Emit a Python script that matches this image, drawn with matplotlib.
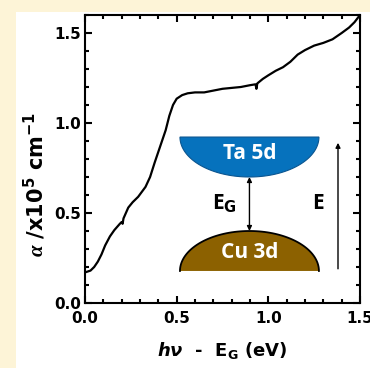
import numpy as np
import matplotlib
matplotlib.use("Agg")
from matplotlib import pyplot as plt
from matplotlib.patches import Polygon, Rectangle
from matplotlib.ticker import MultipleLocator

plt.rcParams['font.family'] = ['DejaVu Sans']
plt.rcParams['font.weight'] = 'bold'
plt.rcParams['mathtext.fontset'] = 'custom'
plt.rcParams['mathtext.rm'] = 'DejaVu Sans:bold'
plt.rcParams['mathtext.bf'] = 'DejaVu Sans:bold'
plt.rcParams['mathtext.it'] = 'DejaVu Sans:italic:bold'
plt.rcParams['mathtext.sf'] = 'Liberation Serif:italic'

# absorption curve
energy = [0.0, 0.03, 0.05, 0.07, 0.09, 0.11, 0.136, 0.16, 0.19, 0.20, 0.205,
          0.21, 0.236, 0.26, 0.29, 0.33, 0.355, 0.38, 0.41, 0.44, 0.46,
          0.48, 0.50, 0.53, 0.56, 0.60, 0.65, 0.70, 0.75, 0.80, 0.85,
          0.90, 0.93, 0.935, 0.94, 0.97, 1.00, 1.04, 1.08, 1.12, 1.16,
          1.20, 1.25, 1.30, 1.35, 1.40, 1.44, 1.47, 1.50]
alpha = [0.17, 0.18, 0.20, 0.23, 0.27, 0.32, 0.37, 0.405, 0.44, 0.45, 0.44,
         0.47, 0.53, 0.56, 0.59, 0.645, 0.70, 0.78, 0.87, 0.96, 1.04,
         1.10, 1.135, 1.155, 1.165, 1.17, 1.17, 1.18, 1.19, 1.195, 1.20,
         1.21, 1.215, 1.19, 1.22, 1.245, 1.265, 1.29, 1.31, 1.34, 1.38,
         1.405, 1.43, 1.445, 1.465, 1.50, 1.53, 1.56, 1.60]

bandCentre = 0.897
bandHalfWidth = 0.379
ta5dTop = 0.922
cu3dBottom = 0.178
bandDepth = 0.222

fig = plt.figure(figsize=(3.70, 3.68), dpi=100)
fig.patch.set_facecolor("#fdf4d7")
fig.patches.append(Rectangle((16 / 370, 0), 1, 1 - 12 / 368, transform=fig.transFigure,
                             facecolor="white", edgecolor="none", zorder=-5))

ax = fig.add_axes([85 / 370, 65 / 368, 275 / 370, 288 / 368])
ax.plot(energy, alpha, c="black", lw=1.6)

ax.set_xlim(0, 1.5)
ax.set_ylim(0, 1.6)
ax.xaxis.set_major_locator(MultipleLocator(0.5))
ax.xaxis.set_minor_locator(MultipleLocator(0.1))
ax.yaxis.set_major_locator(MultipleLocator(0.5))
ax.yaxis.set_minor_locator(MultipleLocator(0.1))
ax.tick_params(which="both", direction="in", top=True, right=True, width=1.5, labelsize=11)
ax.tick_params(which="major", length=5)
ax.tick_params(which="minor", length=3)
ax.tick_params(axis="x", pad=6)
ax.tick_params(axis="y", pad=3)
for s in ax.spines.values():
  s.set_linewidth(1.5)

ax.set_xlabel(r"$h\nu$  -  E$_\mathrm{G}$ (eV)", fontsize=13, fontweight="bold", labelpad=10)
ax.set_ylabel(r"$\mathsf{\alpha}$ /x10$^5$ cm$^{-1}$", fontsize=15, fontweight="bold")
ax.yaxis.set_label_coords(-0.135, 0.413)

# band diagram inset
t = np.linspace(np.pi, 2 * np.pi, 80)
taX = bandCentre + bandHalfWidth * np.cos(t)
taY = ta5dTop + bandDepth * np.sin(t)
ax.add_patch(Polygon(np.column_stack([taX, taY]), closed=True, facecolor="#0672bd",
                     edgecolor="#0a5590", lw=0.8, zorder=3))
t = np.linspace(0, np.pi, 80)
cuX = bandCentre + bandHalfWidth * np.cos(t)
cuY = cu3dBottom + bandDepth * np.sin(t)
ax.add_patch(Polygon(np.column_stack([cuX, cuY]), closed=True, facecolor="#8c6100",
                     edgecolor="none", zorder=3))
ax.plot(cuX, cuY, c="black", lw=1.3, zorder=4)

ax.text(bandCentre, 0.83, "Ta 5d", color="white", fontsize=15, fontweight="bold",
        family=["Open Sans", "DejaVu Sans"], ha="center", va="center", zorder=5)
ax.text(bandCentre, 0.28, "Cu 3d", color="white", fontsize=15, fontweight="bold",
        family=["Open Sans", "DejaVu Sans"], ha="center", va="center", zorder=5)

ax.annotate("", xy=(bandCentre, ta5dTop - bandDepth), xytext=(bandCentre, cu3dBottom + bandDepth),
            arrowprops=dict(arrowstyle="<|-|>", color="black", lw=1.0,
                            mutation_scale=7, shrinkA=0, shrinkB=0), zorder=5)
ax.annotate("", xy=(1.38, 0.89), xytext=(1.38, 0.19),
            arrowprops=dict(arrowstyle="-|>", color="black", lw=1.0,
                            mutation_scale=7, shrinkA=0, shrinkB=0), zorder=5)

ax.text(0.76, 0.55, r"E$_\mathrm{G}$", fontsize=15, fontweight="bold",
        family=["Open Sans", "DejaVu Sans"], ha="center", va="center")
ax.text(1.27, 0.55, "E", fontsize=15, fontweight="bold",
        family=["Open Sans", "DejaVu Sans"], ha="center", va="center")

fig.savefig("out.png", dpi=100, facecolor=fig.get_facecolor())
